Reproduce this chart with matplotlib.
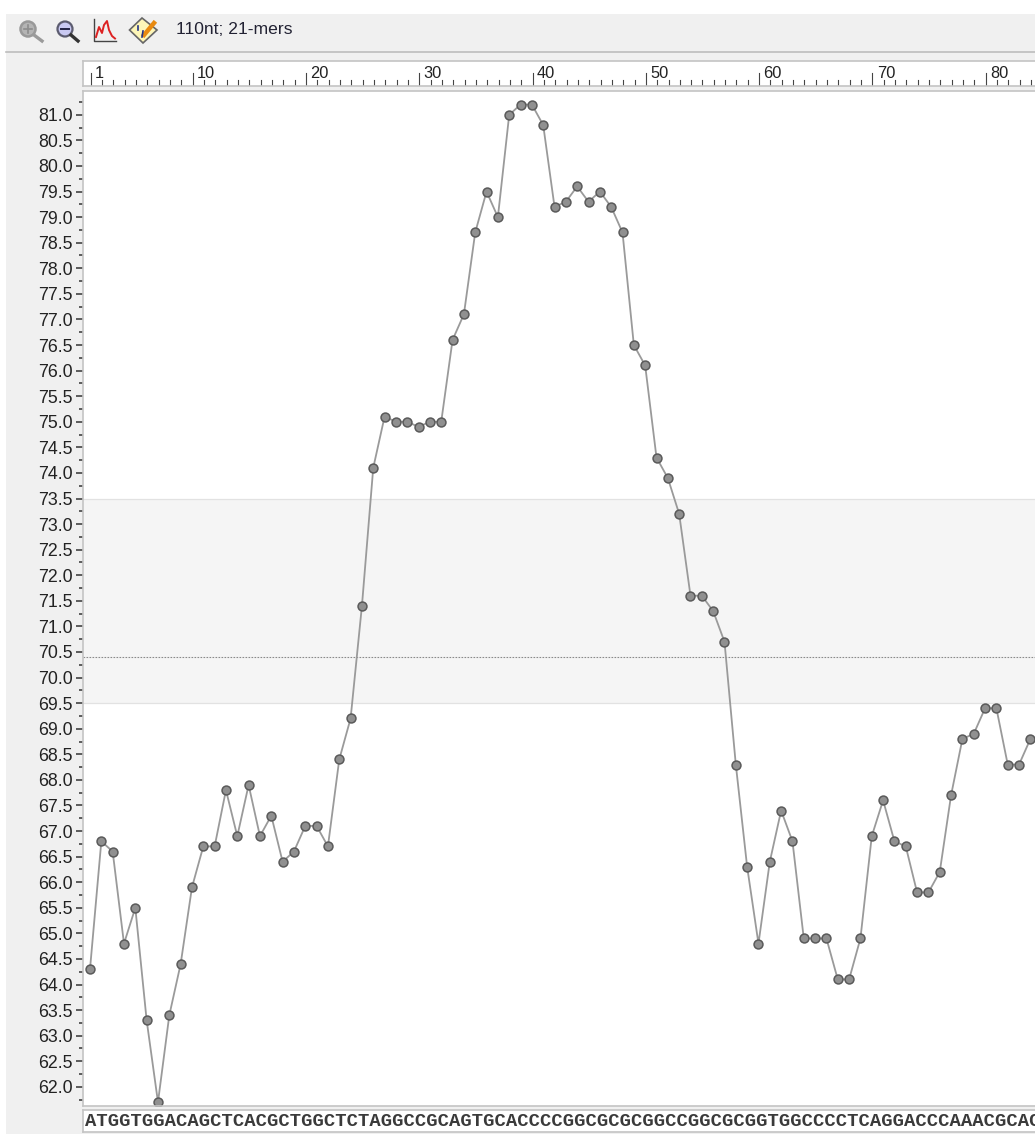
import matplotlib
matplotlib.use("Agg")
import matplotlib.pyplot as plt
from matplotlib.patches import Rectangle, Circle, Polygon
from matplotlib.lines import Line2D

W, H = 1035, 1134

positions = list(range(1, 85))
tm_values = [64.3, 66.8, 66.6, 64.8, 65.5, 63.3, 61.7, 63.4, 64.4, 65.9,
             66.7, 66.7, 67.8, 66.9, 67.9, 66.9, 67.3, 66.4, 66.6, 67.1,
             67.1, 66.7, 68.4, 69.2, 71.4, 74.1, 75.1, 75.0, 75.0, 74.9,
             75.0, 75.0, 76.6, 77.1, 78.7, 79.5, 79.0, 81.0, 81.2, 81.2,
             80.8, 79.2, 79.3, 79.6, 79.3, 79.5, 79.2, 78.7, 76.5, 76.1,
             74.3, 73.9, 73.2, 71.6, 71.6, 71.3, 70.7, 68.3, 66.3, 64.8,
             66.4, 67.4, 66.8, 64.9, 64.9, 64.9, 64.1, 64.1, 64.9, 66.9,
             67.6, 66.8, 66.7, 65.8, 65.8, 66.2, 67.7, 68.8, 68.9, 69.4,
             69.4, 68.3, 68.3, 68.8]
band_low, band_high = 69.5, 73.5
mean_tm = 70.4
sequence = "ATGGTGGACAGCTCACGCTGGCTCTAGGCCGCAGTGCACCCCGGCGCGCGGCCGGCGCGGTGGCCCCTCAGGACCCAAACGCAC"
ruler_labels = [1, 10, 20, 30, 40, 50, 60, 70, 80]
status_text = "110nt; 21-mers"

BG = "#f0f0f0"
BORDER = "#c4c4c4"
fig = plt.figure(figsize=(W / 100, H / 100), dpi=100, facecolor="white")
plt.rcParams["font.family"] = ["Liberation Sans", "DejaVu Sans"]


def axpx(x0, y0, x1, y1, **kw):
    return fig.add_axes([x0 / W, 1 - y1 / H, (x1 - x0) / W, (y1 - y0) / H], **kw)


# Window background and toolbar, in pixel coordinates
bg = axpx(0, 0, W, H, zorder=0)
bg.set_xlim(0, W)
bg.set_ylim(H, 0)
bg.axis("off")
bg.add_patch(Rectangle((6, 14), W - 6, H - 14, fc=BG, ec="none"))
bg.add_line(Line2D([6, W], [52, 52], color="#bdbdbd", lw=1.2))
bg.text(176, 30, status_text, fontsize=12.6, color="#222233", va="center", ha="left",
        family="Liberation Sans")

# toolbar icons
bg.add_patch(Circle((28, 29), 7.5, fc="#b4b4b4", ec="#999999", lw=1.8))
bg.add_line(Line2D([34, 42], [35, 41], color="#9a9a9a", lw=2.4))
bg.add_line(Line2D([24, 32], [29, 29], color="#8c8c8c", lw=1.2))
bg.add_line(Line2D([28, 28], [25, 33], color="#8c8c8c", lw=1.2))
bg.add_patch(Circle((65, 29), 7.5, fc="#c9c9f2", ec="#5c5c70", lw=1.6))
bg.add_line(Line2D([71, 78], [35, 41], color="#333333", lw=2.4))
bg.add_line(Line2D([61, 69], [29, 29], color="#222244", lw=1.4))
bg.add_line(Line2D([94, 94, 116], [19, 40.5, 40.5], color="#444444", lw=1.0))
bg.add_line(Line2D([96, 99, 102, 104, 107, 109, 112, 115],
                   [37, 27, 33, 25, 21, 30, 36, 38.5], color="#dd2222", lw=1.4))
bg.add_patch(Polygon([(142, 18), (157, 30), (143, 43), (129.5, 30)], fc="#fdf6b8", ec="#666666", lw=1.2))
bg.add_line(Line2D([144, 154], [35, 23], color="#e88a10", lw=3.2))
bg.add_line(Line2D([138, 138], [26, 30], color="#223388", lw=1.2))
bg.add_line(Line2D([143, 142], [31, 37], color="#223388", lw=1.2))

# Main chart
x_zero_px = 90.0
px_per_pos = 11.33
x_left_px = 83.0
xmin = 1 + (x_left_px - x_zero_px) / px_per_pos
xmax = 1 + (W - x_zero_px) / px_per_pos
y_per_px = 0.5 / 25.58
y81_px = 114.8
ymax = 81.0 + (y81_px - 91) * y_per_px
ymin = 81.0 - (1106 - y81_px) * y_per_px

ax = axpx(x_left_px, 91, W, 1106, zorder=2)
ax.set_xlim(xmin, xmax)
ax.set_ylim(ymin, ymax)
ax.set_facecolor("white")
ax.axhspan(band_low, band_high, color="#f5f5f5", zorder=0, lw=0)
ax.axhline(band_low, color="#e2e2e2", lw=0.9, zorder=1)
ax.axhline(band_high, color="#e2e2e2", lw=0.9, zorder=1)
ax.axhline(mean_tm, color="#8a8a8a", lw=0.8, ls=(0, (1.5, 1.2)), zorder=1)
ax.plot(positions, tm_values, color="#9a9a9a", lw=1.3, zorder=2, marker="o", ms=6.4,
        mfc="#909090", mec="#5a5a5a", mew=1.1, clip_on=True)
for side, sp in ax.spines.items():
    sp.set_color(BORDER)
    sp.set_linewidth(1.2)
ax.spines["right"].set_visible(False)

major = [62 + 0.5 * i for i in range(39)]
minor = [61.75 + 0.5 * i for i in range(40)]
ax.set_yticks(major)
ax.set_yticklabels([f"{v:.1f}" for v in major], fontsize=12.8, color="#222222",
                   family="Liberation Sans")
ax.set_yticks(minor, minor=True)
ax.tick_params(axis="y", which="major", length=5.4, width=1.1, color="#333333", pad=2)
ax.tick_params(axis="y", which="minor", length=3, width=1.1, color="#333333")
ax.set_xticks([])

# Ruler
ruler = axpx(x_left_px, 61, W, 86, zorder=2)
ruler.set_xlim(xmin, xmax)
ruler.set_ylim(25, 0)
ruler.set_facecolor("white")
for side, sp in ruler.spines.items():
    sp.set_color(BORDER)
    sp.set_linewidth(1.2)
ruler.spines["right"].set_visible(False)
ruler.set_yticks([])
ruler.set_xticks([])
for p in range(1, 86):
    tall = p in ruler_labels
    ruler.add_line(Line2D([p + 0.06, p + 0.06], [12 if tall else 19, 24],
                          color="#444444", lw=0.8))
for lab in ruler_labels:
    ruler.text(lab + 0.45, 12, str(lab), fontsize=11.8, color="#222222", ha="left",
               va="center", family="Liberation Sans")

# Sequence strip
seq_ax = axpx(x_left_px, 1110, W, 1132, zorder=2)
seq_ax.set_xlim(xmin, xmax)
seq_ax.set_ylim(0, 1)
seq_ax.set_facecolor("white")
for side, sp in seq_ax.spines.items():
    sp.set_color(BORDER)
    sp.set_linewidth(1.2)
seq_ax.spines["right"].set_visible(False)
seq_ax.set_xticks([])
seq_ax.set_yticks([])
seq_ax.text(positions[0] - 0.42, 0.47, sequence, fontsize=13.6, color="#3a3a3a", ha="left",
            va="center", family="Liberation Mono", fontweight="bold", clip_on=True)

fig.savefig("out.png", dpi=100, facecolor="white")
